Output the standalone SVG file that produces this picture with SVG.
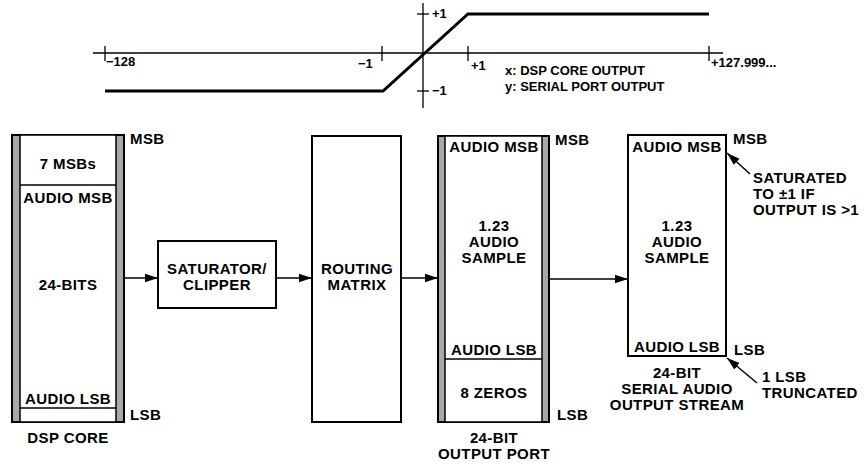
<svg xmlns="http://www.w3.org/2000/svg" width="865" height="463" viewBox="0 0 865 463">
<style>
  text { font-family: "Liberation Sans", Arial, sans-serif; font-weight: bold; fill: #000; }
  .lb { font-size: 15px; letter-spacing: 0.4px; }
  .sm { font-size: 13px; }
  .c { text-anchor: middle; }
  .box { fill: #fff; stroke: #000; stroke-width: 2; }
  .reg { fill: #a8a8a8; stroke: #000; stroke-width: 2; }
  .inner { fill: #fff; stroke: #000; stroke-width: 1.5; }
  .div { stroke: #000; stroke-width: 1.5; }
  .ax { stroke: #000; stroke-width: 1.3; fill: none; }
  .curve { stroke: #000; stroke-width: 3; fill: none; stroke-linejoin: miter; }
  .conn { stroke: #000; stroke-width: 1.5; fill: none; }
</style>
<defs>
  <marker id="arr" markerUnits="userSpaceOnUse" markerWidth="14" markerHeight="10" refX="13" refY="5" orient="auto">
    <path d="M0,0.8 L13,5 L0,9.2 Z" fill="#000"/>
  </marker>
</defs>

<g id="graph">
  <line class="ax" x1="93" y1="53" x2="723" y2="53"/>
  <line class="ax" x1="423" y1="3" x2="423" y2="108"/>
  <line class="ax" x1="105" y1="46" x2="105" y2="61"/>
  <line class="ax" x1="382" y1="46" x2="382" y2="61"/>
  <line class="ax" x1="468" y1="46" x2="468" y2="61"/>
  <line class="ax" x1="709" y1="46" x2="709" y2="61"/>
  <line class="ax" x1="417" y1="14" x2="429" y2="14"/>
  <line class="ax" x1="417" y1="91" x2="429" y2="91"/>
  <polyline class="curve" points="105,91 383,91 468,14 709,14"/>
  <text class="sm" x="106" y="66">−128</text>
  <text class="sm" x="358" y="68">−1</text>
  <text class="sm" x="471" y="70">+1</text>
  <text class="sm" x="711" y="67">+127.999...</text>
  <text class="sm" x="432" y="18">+1</text>
  <text class="sm" x="432" y="95">−1</text>
  <text class="sm" x="505" y="75">x: DSP CORE OUTPUT</text>
  <text class="sm" x="505" y="91">y: SERIAL PORT OUTPUT</text>
</g>

<g id="dsp-core">
  <rect class="reg" x="12" y="135" width="112" height="287"/>
  <rect class="inner" x="20" y="135" width="96" height="287"/>
  <line class="div" x1="20" y1="185" x2="116" y2="185"/>
  <line class="div" x1="20" y1="408" x2="116" y2="408"/>
  <text class="lb c" x="68" y="169">7 MSBs</text>
  <text class="lb c" x="68" y="203">AUDIO MSB</text>
  <text class="lb c" x="68" y="290">24-BITS</text>
  <text class="lb c" x="68" y="404">AUDIO LSB</text>
  <text class="lb" x="130" y="144">MSB</text>
  <text class="lb" x="130" y="420">LSB</text>
  <text class="lb c" x="68" y="443">DSP CORE</text>
</g>

<g id="saturator">
  <rect class="box" x="158" y="241" width="118" height="67"/>
  <text class="lb c" x="217" y="274">SATURATOR/</text>
  <text class="lb c" x="217" y="290">CLIPPER</text>
</g>

<g id="routing-matrix">
  <rect class="box" x="312" y="136" width="89" height="286"/>
  <text class="lb c" x="357" y="274">ROUTING</text>
  <text class="lb c" x="357" y="290">MATRIX</text>
</g>

<g id="output-port">
  <rect class="reg" x="438" y="136" width="111" height="286"/>
  <rect class="inner" x="445" y="136" width="97" height="286"/>
  <line class="div" x1="445" y1="359" x2="542" y2="359"/>
  <text class="lb c" x="494" y="152">AUDIO MSB</text>
  <text class="lb c" x="494" y="231">1.23</text>
  <text class="lb c" x="494" y="247">AUDIO</text>
  <text class="lb c" x="494" y="263">SAMPLE</text>
  <text class="lb c" x="494" y="355">AUDIO LSB</text>
  <text class="lb c" x="494" y="398">8 ZEROS</text>
  <text class="lb" x="555" y="145">MSB</text>
  <text class="lb" x="557" y="420">LSB</text>
  <text class="lb c" x="494" y="443">24-BIT</text>
  <text class="lb c" x="494" y="459">OUTPUT PORT</text>
</g>

<g id="serial-stream">
  <rect class="box" x="628" y="135" width="98" height="221"/>
  <text class="lb c" x="677" y="152">AUDIO MSB</text>
  <text class="lb c" x="677" y="231">1.23</text>
  <text class="lb c" x="677" y="247">AUDIO</text>
  <text class="lb c" x="677" y="263">SAMPLE</text>
  <text class="lb c" x="677" y="352">AUDIO LSB</text>
  <text class="lb" x="733" y="144">MSB</text>
  <text class="lb" x="734" y="355">LSB</text>
  <text class="lb c" x="677" y="378">24-BIT</text>
  <text class="lb c" x="677" y="394">SERIAL AUDIO</text>
  <text class="lb c" x="677" y="410">OUTPUT STREAM</text>
</g>

<g id="note-saturated">
  <text class="lb" x="753" y="183">SATURATED</text>
  <text class="lb" x="753" y="199">TO ±1 IF</text>
  <text class="lb" x="753" y="215">OUTPUT IS &gt;1</text>
</g>

<g id="note-truncated">
  <text class="lb" x="762" y="382">1 LSB</text>
  <text class="lb" x="762" y="398">TRUNCATED</text>
</g>

<g id="connectors">
  <line class="conn" x1="124" y1="278" x2="158" y2="278" marker-end="url(#arr)"/>
  <line class="conn" x1="276" y1="278" x2="312" y2="278" marker-end="url(#arr)"/>
  <line class="conn" x1="401" y1="278" x2="438" y2="278" marker-end="url(#arr)"/>
  <line class="conn" x1="549" y1="279" x2="628" y2="279" marker-end="url(#arr)"/>
  <line class="conn" x1="750" y1="174" x2="727" y2="153" marker-end="url(#arr)"/>
  <line class="conn" x1="757" y1="383" x2="727" y2="358" marker-end="url(#arr)"/>
</g>
</svg>
